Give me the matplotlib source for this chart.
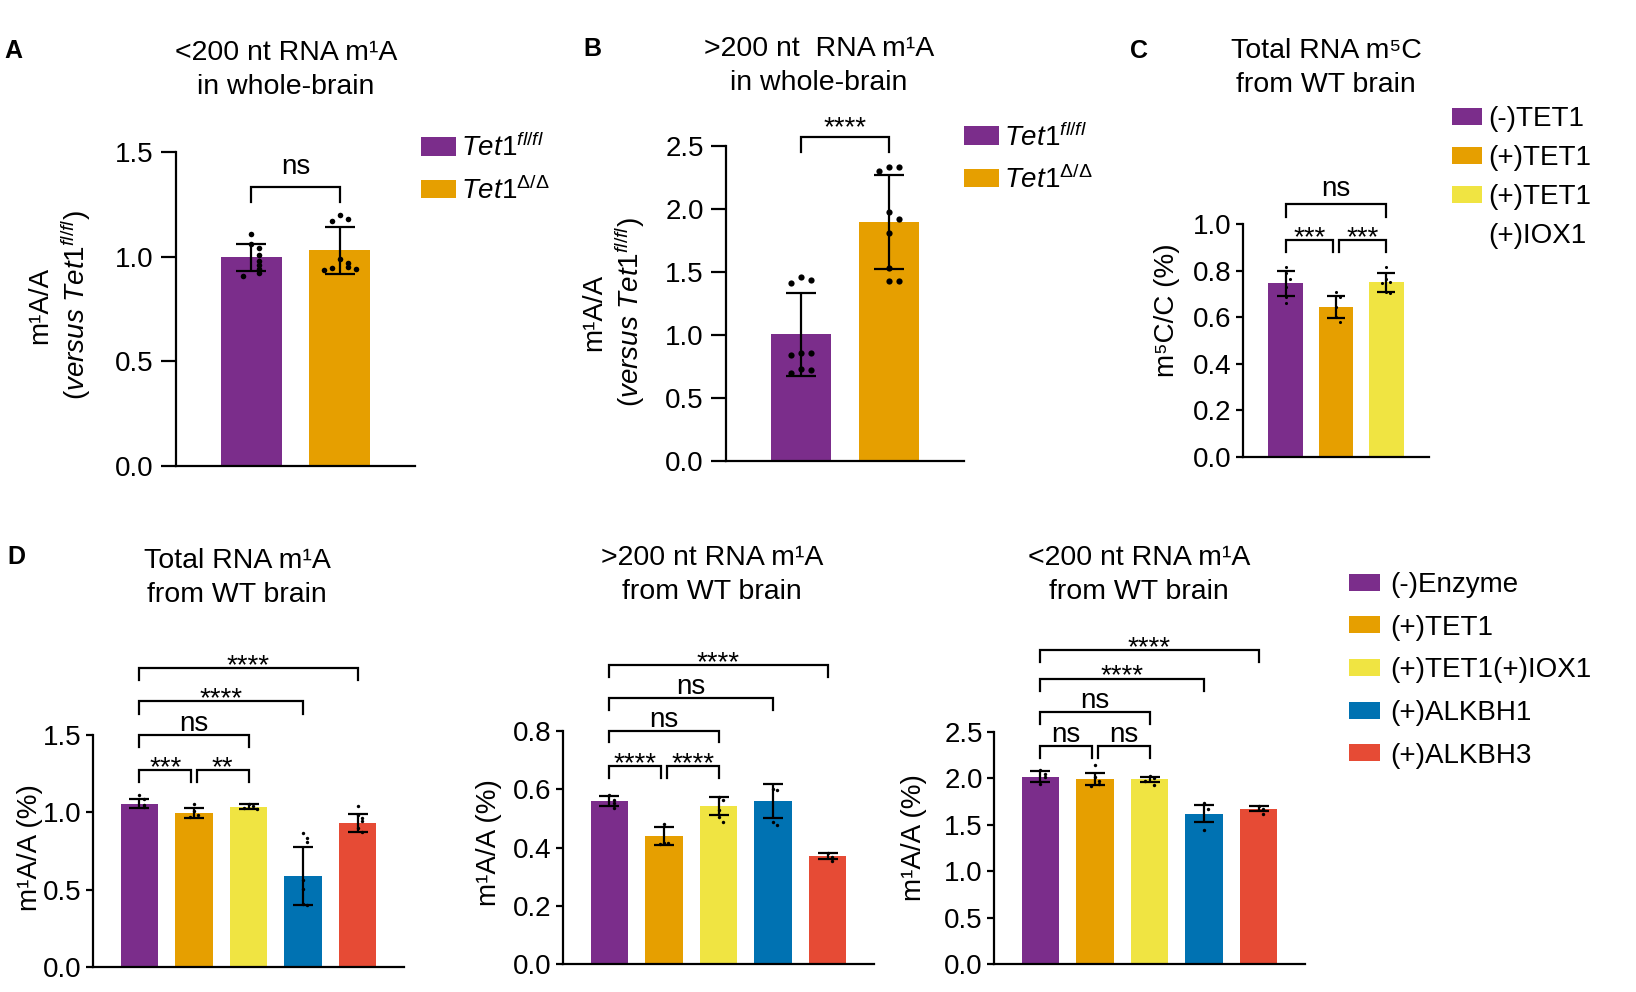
"""
Bar charts of m1A / m5C levels (Tet1 knockout brain and in vitro enzyme treatment).
"""

import numpy as np
import matplotlib

matplotlib.use("Agg")
import matplotlib.pyplot as plt
from matplotlib.patches import Patch

plt.rcParams["font.family"] = ["Liberation Sans", "DejaVu Sans"]
plt.rcParams["mathtext.fontset"] = "custom"
plt.rcParams["mathtext.rm"] = "Liberation Sans"
plt.rcParams["mathtext.it"] = "Liberation Sans:italic"
plt.rcParams["mathtext.bf"] = "Liberation Sans:bold"

W, H = 1636, 992
FS = 20

purple = "#7B2D8B"
orange = "#E69F00"
yellow = "#F0E442"
blue = "#0072B2"
red = "#E64B35"

# ---- data ----
geno_labels = [r"$\mathit{Tet1}^{\mathit{fl/fl}}$", r"$\mathit{Tet1}^{\mathit{Δ/Δ}}$"]
tet_labels = ["(-)TET1", "(+)TET1", "(+)TET1", "(+)IOX1"]
enzyme_labels = ["(-)Enzyme", "(+)TET1", "(+)TET1(+)IOX1", "(+)ALKBH1", "(+)ALKBH3"]

# A: <200 nt m1A, whole brain
a_mean = [0.997, 1.03]
a_sd = [0.065, 0.113]
a_points = [
    [1.11, 1.06, 1.04, 1.01, 0.98, 0.96, 0.94, 0.92, 0.91],
    [1.20, 1.18, 1.17, 0.99, 0.97, 0.95, 0.945, 0.94, 0.935],
]
a_brackets = [(0, 1, 1.333, "ns")]

# B: >200 nt m1A, whole brain
b_mean = [1.006, 1.896]
b_sd = [0.331, 0.372]
b_points = [
    [1.46, 1.44, 1.41, 0.86, 0.86, 0.84, 0.73, 0.72, 0.70],
    [2.33, 2.33, 2.30, 1.98, 1.92, 1.81, 1.53, 1.43, 1.43],
]
b_brackets = [(0, 1, 2.569, "****")]

# C: total RNA m5C
c_mean = [0.745, 0.645, 0.749]
c_sd = [0.055, 0.048, 0.039]
c_points = [
    [0.817, 0.788, 0.766, 0.731, 0.688, 0.659],
    [0.709, 0.688, 0.645, 0.602, 0.580],
    [0.817, 0.766, 0.752, 0.745, 0.709, 0.702],
]
c_brackets = [(0, 1, 0.931, "***"), (1, 2, 0.931, "***"), (0, 2, 1.085, "ns")]

# D1: total RNA m1A
d1_mean = [1.057, 0.996, 1.037, 0.591, 0.930]
d1_sd = [0.030, 0.031, 0.014, 0.188, 0.059]
d1_points = [
    [1.109, 1.083, 1.05, 1.033],
    [1.057, 1.007, 0.985, 0.970],
    [1.052, 1.039, 1.028, 1.022],
    [0.865, 0.833, 0.807, 0.561, 0.507, 0.409, 0.398],
    [1.039, 0.985, 0.963, 0.941, 0.898, 0.876],
]
d1_brackets = [
    (0, 1, 1.274, "***"),
    (1, 2, 1.274, "**"),
    (0, 2, 1.502, "ns"),
    (0, 3, 1.717, "****"),
    (0, 4, 1.935, "****"),
]

# D2: >200 nt m1A
d2_mean = [0.560, 0.440, 0.543, 0.560, 0.371]
d2_sd = [0.017, 0.032, 0.030, 0.058, 0.010]
d2_points = [
    [0.581, 0.563, 0.552, 0.537],
    [0.480, 0.417, 0.415, 0.411],
    [0.575, 0.563, 0.529, 0.506, 0.489],
    [0.600, 0.598, 0.489, 0.478],
    [0.381, 0.369, 0.355],
]
d2_brackets = [
    (0, 1, 0.68, "****"),
    (1, 2, 0.68, "****"),
    (0, 2, 0.801, "ns"),
    (0, 3, 0.912, "ns"),
    (0, 4, 1.026, "****"),
]

# D3: <200 nt m1A
d3_mean = [2.02, 1.99, 1.99, 1.62, 1.675]
d3_sd = [0.055, 0.065, 0.025, 0.095, 0.030]
d3_points = [
    [2.09, 2.05, 2.01, 1.94],
    [2.14, 2.01, 1.97, 1.94, 1.92],
    [2.03, 2.00, 1.97, 1.93],
    [1.73, 1.67, 1.44],
    [1.70, 1.67, 1.62],
]
d3_brackets = [
    (0, 1, 2.349, "ns"),
    (1, 2, 2.349, "ns"),
    (0, 2, 2.716, "ns"),
    (0, 3, 3.076, "****"),
    (0, 4, 3.38, "****"),
]


def fig_xy(x, y):
    """pixel position (from top-left) -> figure fraction"""
    return x / W, 1 - y / H


def make_axes(fig, x0, x1, ytop, ybot):
    ax = fig.add_axes([x0 / W, 1 - ybot / H, (x1 - x0) / W, (ybot - ytop) / H])
    ax.box_px = (x0, x1, ytop, ybot)
    return ax


def spread_offsets(values, thr, step):
    """small horizontal spread for points with close values (like a column scatter)"""
    values = np.asarray(values, dtype=float)
    offsets = np.zeros(len(values))
    pattern = [0, 1, -1, 2, -2, 3, -3]
    placed = []
    for idx in np.argsort(-values):
        n_close = sum(abs(values[idx] - values[p]) < thr for p in placed)
        offsets[idx] = pattern[n_close % len(pattern)] * step
        placed.append(idx)
    return offsets


def draw_panel(ax, means, sds, points, colors, yticks, tick_len, pad, capsize, dot_size, dot_step):
    x = np.arange(len(means))
    ymax = yticks[-1]
    ax.bar(x, means, width=0.69, color=colors, zorder=2)
    for xi, pts in zip(x, points):
        off = spread_offsets(pts, 0.025 * ymax, dot_step)
        ax.scatter(xi + off, pts, s=dot_size, color="black", linewidths=0, zorder=3)
    ax.errorbar(
        x, means, yerr=sds, fmt="none", ecolor="black",
        elinewidth=1.6, capsize=capsize, capthick=1.6, zorder=4,
    )
    ax.set_xlim(-0.85, len(means) - 0.15)
    ax.set_ylim(0, ymax)
    ax.set_yticks(yticks)
    ax.set_yticklabels([f"{t:.1f}" for t in yticks])
    ax.set_xticks([])
    ax.spines[["top", "right"]].set_visible(False)
    ax.spines[["left", "bottom"]].set_linewidth(1.6)
    ax.tick_params(axis="y", length=tick_len, width=1.6, pad=pad, labelsize=FS)


def draw_brackets(ax, brackets, tip, ns_pad, star_pad, gap=0.05):
    for i, j, y, label in brackets:
        left, right = i, j
        if any(b[1] == i and b[2] == y for b in brackets):
            left += gap
        if any(b[0] == j and b[2] == y for b in brackets):
            right -= gap
        ax.plot(
            [left, left, right, right], [y - tip, y, y, y - tip],
            color="black", lw=1.6, clip_on=False, solid_joinstyle="miter",
        )
        ax.annotate(
            label, xy=((left + right) / 2, y),
            xytext=(0, ns_pad if label == "ns" else star_pad),
            textcoords="offset points", ha="center", va="baseline",
            fontsize=FS, annotation_clip=False,
        )


def set_ylabel_px(ax, text, cx, cy, linespacing=1.2):
    x0, x1, ytop, ybot = ax.box_px
    ax.set_ylabel(text, fontsize=FS, linespacing=linespacing)
    ax.yaxis.label.set_va("center")
    ax.yaxis.set_label_coords((cx - x0) / (x1 - x0), (ybot - cy) / (ybot - ytop))


fig = plt.figure(figsize=(W / 100, H / 100), dpi=100)

geno_colors = [purple, orange]
tet_colors = [purple, orange, yellow]
enzyme_colors = [purple, orange, yellow, blue, red]

# ---- A ----
ax_a = make_axes(fig, 176, 415, 152, 466)
draw_panel(ax_a, a_mean, a_sd, a_points, geno_colors, [0, 0.5, 1.0, 1.5], 11, 5, 10.5, 16, 0.09)
draw_brackets(ax_a, a_brackets, 0.072, 9, 0.5)
set_ylabel_px(ax_a, "m¹A/A\n" + r"($\mathit{versus\ Tet1}^{\mathit{fl/fl}}$)", 60, 305)

# ---- B ----
ax_b = make_axes(fig, 726, 964, 146, 461)
draw_panel(ax_b, b_mean, b_sd, b_points, geno_colors, [0, 0.5, 1.0, 1.5, 2.0, 2.5], 11, 5, 10.5, 20, 0.11)
draw_brackets(ax_b, b_brackets, 0.12, 9, 1.5)
set_ylabel_px(ax_b, "m¹A/A\n" + r"($\mathit{versus\ Tet1}^{\mathit{fl/fl}}$)", 614, 312)

# ---- C ----
ax_c = make_axes(fig, 1243, 1429, 224, 457)
draw_panel(ax_c, c_mean, c_sd, c_points, tet_colors, [0, 0.2, 0.4, 0.6, 0.8, 1.0], 4.8, 3.3, 6.5, 5, 0.08)
draw_brackets(ax_c, c_brackets, 0.053, 6, -3.6)
set_ylabel_px(ax_c, "m⁵C/C (%)", 1167, 310)

# ---- D ----
ax_d1 = make_axes(fig, 93, 404, 735, 967)
draw_panel(ax_d1, d1_mean, d1_sd, d1_points, enzyme_colors, [0, 0.5, 1.0, 1.5], 4.8, 3.3, 7, 6, 0.08)
draw_brackets(ax_d1, d1_brackets, 0.08, 3, -3.6)
set_ylabel_px(ax_d1, "m¹A/A (%)", 30, 848)

ax_d2 = make_axes(fig, 563, 874, 731, 964)
draw_panel(ax_d2, d2_mean, d2_sd, d2_points, enzyme_colors, [0, 0.2, 0.4, 0.6, 0.8], 4.8, 3.3, 7, 6, 0.08)
draw_brackets(ax_d2, d2_brackets, 0.04, 3, -3.6)
set_ylabel_px(ax_d2, "m¹A/A (%)", 489, 843)

ax_d3 = make_axes(fig, 994, 1305, 732, 964)
draw_panel(ax_d3, d3_mean, d3_sd, d3_points, enzyme_colors, [0, 0.5, 1.0, 1.5, 2.0, 2.5], 4.8, 3.3, 7, 6, 0.08)
draw_brackets(ax_d3, d3_brackets, 0.13, 3, -3.6)
set_ylabel_px(ax_d3, "m¹A/A (%)", 914, 838)

# ---- titles ----
titles = [
    (286, 70, "<200 nt RNA m¹A\nin whole-brain"),
    (819, 66, ">200 nt  RNA m¹A\nin whole-brain"),
    (1326, 68, "Total RNA m⁵C\nfrom WT brain"),
    (237, 578, "Total RNA m¹A\nfrom WT brain"),
    (712, 575, ">200 nt RNA m¹A\nfrom WT brain"),
    (1139, 575, "<200 nt RNA m¹A\nfrom WT brain"),
]
for cx, cy, text in titles:
    fig.text(*fig_xy(cx, cy), text, ha="center", va="center", fontsize=20.5, linespacing=1.4)

for x, y, letter in [(4, 51, "A"), (583, 49, "B"), (1130, 51, "C"), (7, 557, "D")]:
    fig.text(*fig_xy(x, y), letter, ha="left", va="center", fontsize=18, fontweight="bold")

# ---- legends ----
legend_kw = dict(loc="upper left", frameon=False, borderpad=0, borderaxespad=0, fontsize=FS)

geno_handles = [Patch(facecolor=c, edgecolor="none") for c in geno_colors]
fig.legend(geno_handles, geno_labels, bbox_to_anchor=fig_xy(421, 134),
           handlelength=1.26, handleheight=0.65, handletextpad=0.18, labelspacing=0.5, **legend_kw)
fig.legend(geno_handles, geno_labels, bbox_to_anchor=fig_xy(964, 123),
           handlelength=1.26, handleheight=0.65, handletextpad=0.18, labelspacing=0.5, **legend_kw)

tet_handles = [Patch(facecolor=c, edgecolor="none") for c in tet_colors]
tet_handles.append(Patch(facecolor="none", edgecolor="none"))
fig.legend(tet_handles, tet_labels, bbox_to_anchor=fig_xy(1452, 106),
           handlelength=1.08, handleheight=0.58, handletextpad=0.22, labelspacing=0.47, **legend_kw)

enzyme_handles = [Patch(facecolor=c, edgecolor="none") for c in enzyme_colors]
fig.legend(enzyme_handles, enzyme_labels, bbox_to_anchor=fig_xy(1349, 572),
           handlelength=1.12, handleheight=0.56, handletextpad=0.36, labelspacing=0.6, **legend_kw)

fig.savefig("out.png", dpi=100)
